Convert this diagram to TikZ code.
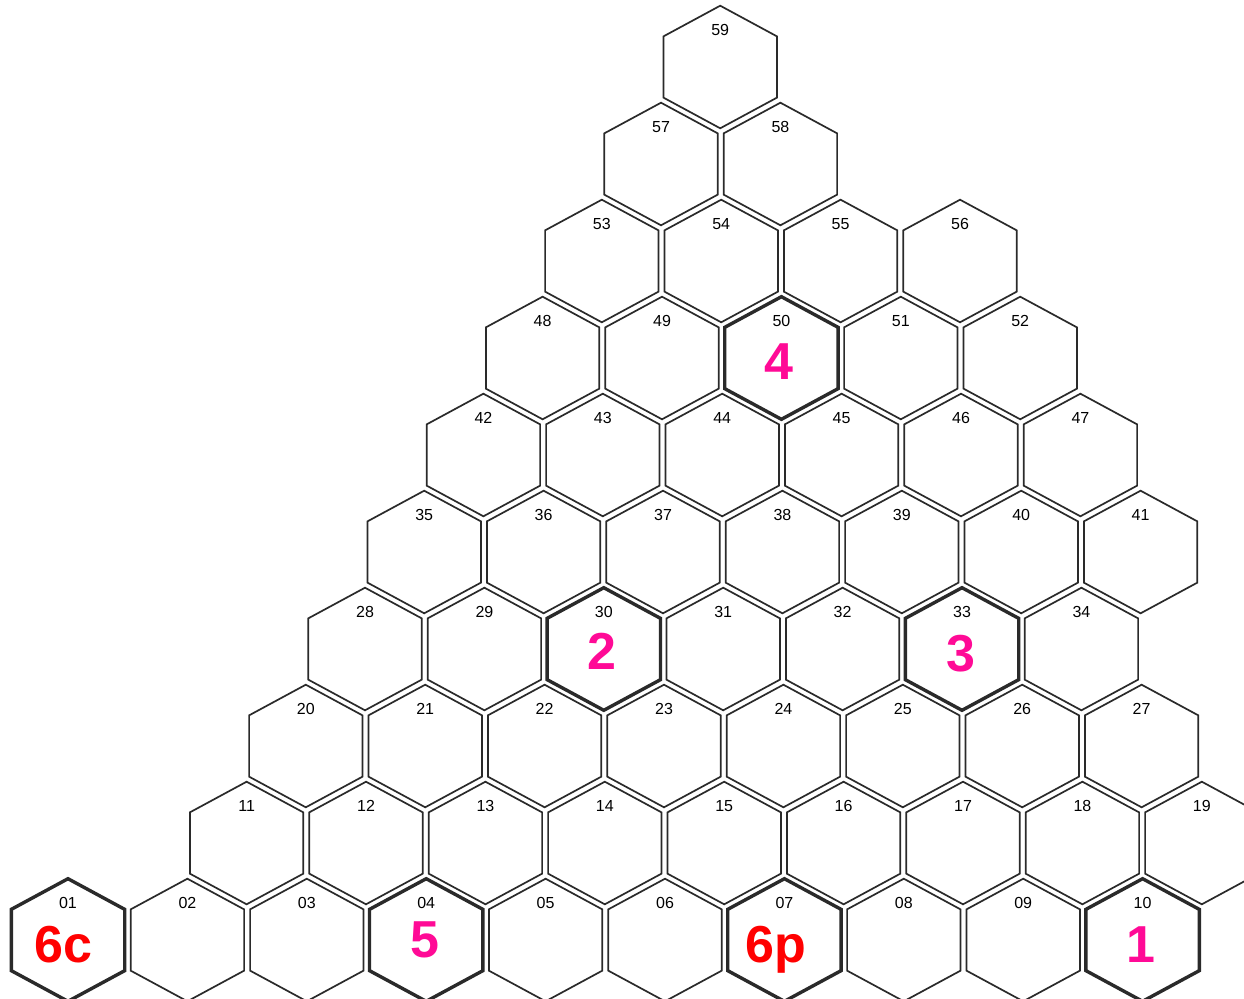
\documentclass[tikz,border=0pt]{standalone}
\usepackage{fontspec}
\setmainfont{Liberation Sans}
\definecolor{edge}{HTML}{2A2A2A}
\definecolor{pinkm}{HTML}{FF0A96}
\definecolor{redm}{HTML}{FF0000}
\tikzset{
  hexthin/.style={draw=edge, line width=1.7pt, line join=miter},
  hexthick/.style={draw=edge, line width=3.4pt, line join=miter},
  numlbl/.style={font=\fontsize{16}{16}\selectfont, text=black, inner sep=0pt},
  biglbl/.style={font=\bfseries\fontsize{52}{52}\selectfont, inner sep=0pt, anchor=base},
}
\newcommand\hexpath[3]{%
  \draw[#3] (#1,#2) ++(0,-61.3) -- ++(56.7,30.65) -- ++(0,61.3) -- ++(-56.7,30.65)
     -- ++(-56.7,-30.65) -- ++(0,-61.3) -- cycle;}
\begin{document}
\begin{tikzpicture}[x=1pt,y=-1pt]
\clip (0,0) rectangle (1244,998);
\fill[white] (0,0) rectangle (1244,998);
\foreach \r/\s/\n/\c in {0/1/10/0,1/11/9/1,2/20/8/1,3/28/7/1,4/35/7/1,5/42/6/1,6/48/5/1,7/53/4/1,8/57/2/1,9/59/1/1}{
  \foreach \k in {1,...,\n}{
    \pgfmathtruncatemacro\id{\s+\k-1}
    \pgfmathsetmacro\cx{68+(\c+\k-1)*119.4+\r*59.2}
    \pgfmathsetmacro\cy{940-97*\r}
    \hexpath{\cx}{\cy}{hexthin}
    \node[numlbl] (h\id) at (\cx,\cy-37) {\ifnum\id<10 0\fi\id};
  }
}
% highlighted cells
\hexpath{68}{940}{hexthick}
\hexpath{426.2}{940}{hexthick}
\hexpath{784.4}{940}{hexthick}
\hexpath{1142.6}{940}{hexthick}
\hexpath{603.8}{649}{hexthick}
\hexpath{962}{649}{hexthick}
\hexpath{781.4}{358}{hexthick}
% big labels
\node[biglbl, text=redm] (b01) at (63.5,962) {6c};
\node[biglbl, text=pinkm] (b04) at (425,957.5) {5};
\node[biglbl, text=redm] (b07) at (776,962.5) {6p};
\node[biglbl, text=pinkm] (b10) at (1141,962) {1};
\node[biglbl, text=pinkm] (b30) at (601.7,669.5) {2};
\node[biglbl, text=pinkm] (b33) at (961,671) {3};
\node[biglbl, text=pinkm] (b50) at (779,379.5) {4};
\end{tikzpicture}
\end{document}
